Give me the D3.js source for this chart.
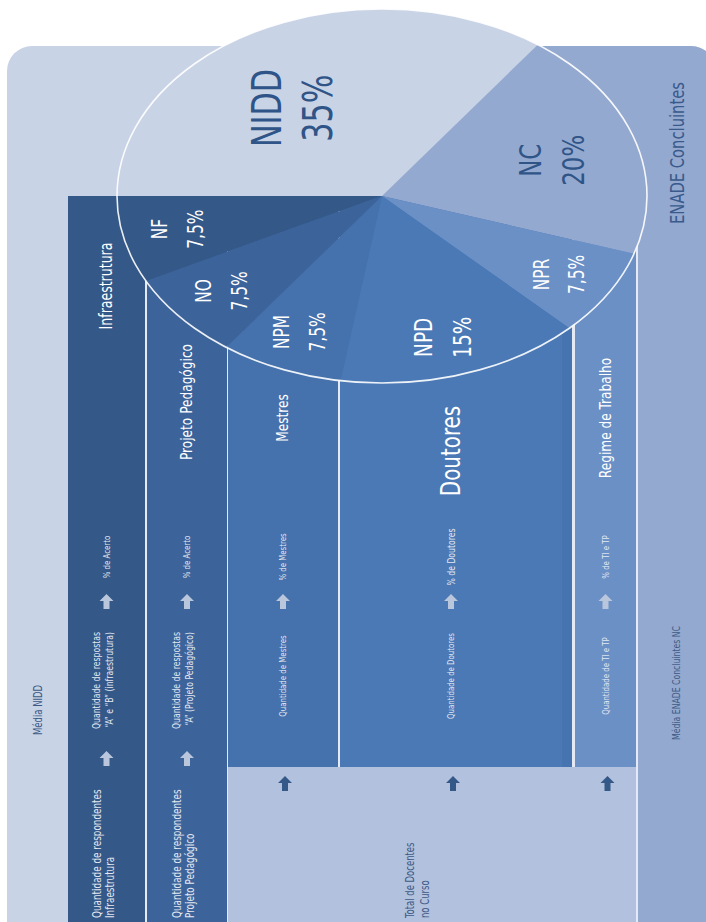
<!DOCTYPE html>
<html>
<head>
<meta charset="utf-8">
<script src="https://cdn.jsdelivr.net/npm/d3@7"></script>
<style>
  body { margin: 0; background: #fff; }
  svg { display: block; }
  text { font-family: "DejaVu Sans Condensed", "Liberation Sans Narrow", "Roboto", sans-serif; }
</style>
</head>
<body>
<div class="chart-container"></div>
<script>
// fatias do gráfico (em %)
const sliceLabels = ["NIDD", "NC", "NPR", "NPD", "NPM", "NO", "NF"]
const sliceValues = [35, 20, 7.5, 15, 7.5, 7.5, 7.5]

// colunas (indicadores)
const columnNames = ["Infraestrutura", "Projeto Pedagógico", "Mestres", "Doutores", "Regime de Trabalho"]
const columnSlice = ["NF", "NO", "NPM", "NPD", "NPR"]
const columnPct = ["% de Acerto", "% de Acerto", "% de Mestres", "% de Doutores", "% de TI e TP"]
const columnQty = [
  ["Quantidade de respostas", "“A” e “B” (infraestrutura)"],
  ["Quantidade de respostas", "“A” (Projeto Pedagógico)"],
  ["Quantidade de Mestres"],
  ["Quantidade de Doutores"],
  ["Quantidade de TI e TP"]
]
const columnBase = [
  ["Quantidade de respondentes", "Infraestrutura"],
  ["Quantidade de respondentes", "Projeto Pedagógico"]
]
const totalLabel = ["Total de Docentes", "no Curso"]
const leftLabel = "Média NIDD"
const rightTitle = "ENADE Concluintes"
const rightLabel = "Média ENADE Concluintes NC"

const WIDTH = 706
const HEIGHT = 922

// cores
const colorScale = d3.scaleOrdinal()
  .domain(sliceLabels)
  .range(["#c9d3e6", "#94a9cf", "#6b90c6", "#4a79b5", "#4571ac", "#3c649b", "#345888"])
const darkText = "#2f5487"
const lightBand = "#b2c1dd"
const lineColor = "#e4e9f3"
const CONDENSE = 0.82 // fonte condensada

// layout
const frame = { x: 7, y: 46, r: 25 }
const colX = [68, 147, 228, 340, 575]
const colW = [77, 80, 110, 232, 61]
const colTop = 196
const shortBottom = 767
const nameY = [286, 402, 418, 451, 418]
const nameSize = [17, 16.5, 16.5, 27, 16.5]
const pie = { cx: 382, cy: 196, rx: 265, ry: 187 }

const svg = d3.select(".chart-container")
  .append("svg")
  .attr("width", WIDTH)
  .attr("height", HEIGHT)

svg.append("clipPath").attr("id", "frame-clip")
  .append("rect")
  .attr("x", frame.x).attr("y", frame.y)
  .attr("width", WIDTH + 10 - frame.x).attr("height", HEIGHT)
  .attr("rx", frame.r)

const base = svg.append("g").attr("clip-path", "url(#frame-clip)")

// fundo
base.append("rect")
  .attr("x", 0).attr("y", 0).attr("width", WIDTH + 20).attr("height", HEIGHT)
  .attr("fill", colorScale("NIDD"))
base.append("rect")
  .attr("x", 538).attr("y", 0).attr("width", 200).attr("height", HEIGHT)
  .attr("fill", colorScale("NC"))

// linhas brancas entre colunas (fundo)
base.append("rect")
  .attr("x", colX[0]).attr("y", colTop)
  .attr("width", 638 - colX[0]).attr("height", HEIGHT)
  .attr("fill", lineColor)

// colunas
base.selectAll(".col")
  .data(columnNames)
  .join("rect")
  .attr("class", "col")
  .attr("x", (d, i) => colX[i])
  .attr("y", colTop)
  .attr("width", (d, i) => colW[i])
  .attr("height", (d, i) => (i < 2 ? HEIGHT : shortBottom - colTop))
  .attr("fill", (d, i) => colorScale(columnSlice[i]))

// faixa mais escura no fim de Doutores
base.append("rect")
  .attr("x", colX[3] + colW[3] - 10).attr("y", colTop)
  .attr("width", 10).attr("height", shortBottom - colTop)
  .attr("fill", "#3f6ca8").attr("opacity", 0.35)

// faixa clara inferior
base.append("rect")
  .attr("x", colX[2]).attr("y", shortBottom)
  .attr("width", colX[4] + colW[4] - colX[2]).attr("height", HEIGHT - shortBottom)
  .attr("fill", lightBand)

// pie (elipse)
const pieGen = d3.pie().sort(null).value(d => d)
  .startAngle(-Math.PI / 2).endAngle(Math.PI * 1.5)
const arcs = pieGen(sliceValues)
const arcGen = d3.arc().innerRadius(0).outerRadius(pie.rx)

const pieG = svg.append("g")
  .attr("transform", `translate(${pie.cx}, ${pie.cy}) scale(1, ${pie.ry / pie.rx})`)

pieG.selectAll("path")
  .data(arcs)
  .join("path")
  .attr("d", arcGen)
  .attr("fill", (d, i) => colorScale(sliceLabels[i]))

svg.append("ellipse")
  .attr("cx", pie.cx).attr("cy", pie.cy)
  .attr("rx", pie.rx).attr("ry", pie.ry)
  .attr("fill", "none")
  .attr("stroke", "#fff")
  .attr("stroke-opacity", 0.9)
  .attr("stroke-width", 1.6)

// texto vertical (lido de baixo para cima)
const vText = (x, y, lines, size, fill, anchor = "middle", lh = size * 1.2) => {
  const t = svg.append("text")
    .attr("transform", `translate(${x}, ${y}) rotate(-90) scale(${CONDENSE}, 1)`)
    .attr("text-anchor", anchor)
    .attr("font-size", size)
    .attr("fill", fill)
  lines.forEach((line, i) => {
    t.append("tspan")
      .attr("x", 0)
      .attr("y", (i - (lines.length - 1) / 2) * lh)
      .attr("dominant-baseline", "central")
      .text(line)
  })
  return t
}

// seta para cima
const arrow = (x, y, fill) => {
  svg.append("path")
    .attr("transform", `translate(${x}, ${y})`)
    .attr("d", "M0,-8 L7,-1 L3,-1 L3,7 L-3,7 L-3,-1 L-7,-1 Z")
    .attr("fill", fill)
}

// rótulos do pie
const labelR = d3.scaleLinear().domain([15, 20, 35]).range([0.79, 0.67, 0.58]).clamp(true)
const labelFrac = d3.scaleLinear().domain([20, 35]).range([0.52, 0.43]).clamp(true)
const labelSize = d3.scaleLinear().domain([7.5, 15, 20, 35]).range([21, 25, 31, 41])
const k = pie.ry / pie.rx
arcs.forEach((a, i) => {
  const ang = a.startAngle + (a.endAngle - a.startAngle) * labelFrac(a.value)
  const r = labelR(a.value) * pie.rx
  const x = pie.cx + Math.sin(ang) * r
  const y = pie.cy - Math.cos(ang) * r * k
  const size = labelSize(a.value)
  const fill = a.value >= 20 ? darkText : "#fff"
  const pct = String(a.value).replace(".", ",") + "%"
  vText(x, y, [sliceLabels[i], pct], size, fill, "middle", size * 0.75 + 20)
})

// textos das colunas
columnNames.forEach((name, i) => {
  const cx = colX[i] + colW[i] / 2 - (i === 3 ? 5 : 0)
  vText(cx, nameY[i], [name], nameSize[i], "#fff")
  vText(cx, 557, [columnPct[i]], i === 3 ? 10.5 : 9.5, "#e3e8f2")
  arrow(cx, 602, "#b9c6dc")
  if (i < 2) {
    vText(cx - 4, 632, columnQty[i], 10.5, "#e3e8f2", "end", 13)
    arrow(cx, 759, "#b9c6dc")
    vText(cx - 3, 918, columnBase[i], 12, "#e3e8f2", "start", 13)
  } else {
    vText(cx, 676, columnQty[i], 9.5, "#e3e8f2")
    arrow(cx + 2, 784, colorScale("NF"))
  }
})

vText(417, 918, totalLabel, 11.5, "#3d5a86", "start", 15)
vText(38, 710, [leftLabel], 11.5, "#3d5a86")
vText(677, 153, [rightTitle], 20, "#3a5a8c")
vText(676, 683, [rightLabel], 10.5, "#3d5a86")
</script>
</body>
</html>
